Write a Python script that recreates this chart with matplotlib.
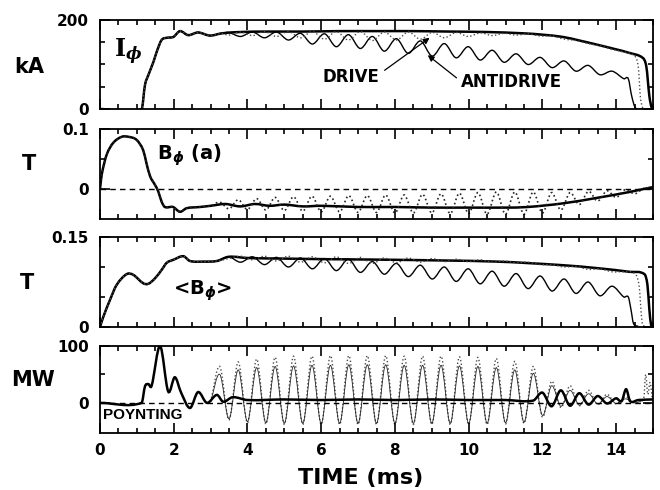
import numpy as np
import matplotlib
matplotlib.use("Agg")
import matplotlib.pyplot as plt
from matplotlib.path import Path
from matplotlib.patches import PathPatch
from matplotlib.ticker import MultipleLocator

plt.rcParams['font.family'] = ['DejaVu Sans']
plt.rcParams['font.weight'] = 'bold'

# --- data (time in ms) ---
# extremum times of the slow oscillation (I_phi, <B_phi>), peak/trough alternately
tA = [3.49, 3.81, 4.14, 4.46, 4.79, 5.11, 5.44, 5.76, 6.09, 6.41, 6.74, 7.06,
      7.39, 7.71, 8.04, 8.36, 8.69, 9.01, 9.34, 9.66, 9.99, 10.31, 10.64, 10.96,
      11.29, 11.61, 11.94, 12.26, 12.59, 12.91, 13.24, 13.56, 13.89, 14.21]
# extremum times of the fast oscillation (B_phi(a), Poynting)
tB = [3.25, 3.5, 3.75, 4.0, 4.25, 4.5, 4.75, 5.0, 5.25, 5.5, 5.75, 6.0, 6.25,
      6.5, 6.75, 7.0, 7.25, 7.5, 7.75, 8.0, 8.25, 8.5, 8.75, 9.0, 9.25, 9.5,
      9.75, 10.0, 10.25, 10.5, 10.75, 11.0, 11.25, 11.5, 11.75, 12.0, 12.25,
      12.5, 12.75, 13.0, 13.25, 13.5, 13.75, 14.0, 14.25, 14.5, 14.75]

# I_phi (kA)
ip_base_t = [0, 1.13, 1.22, 1.31, 1.45, 1.54, 1.67, 1.81, 1.99, 2.17, 2.39, 2.66, 2.98, 3.3]
ip_base_v = [0, 0, 54, 76, 106, 129, 155, 160, 162, 175, 166, 172, 165, 170]
ip_drive_t = [3.8, 4.5, 5.5, 6.5, 7.5, 8.5, 9.5, 10.5, 11.5, 12.0, 12.55, 13.0,
              13.46, 14.0, 14.36, 14.72, 14.82, 14.9, 14.96, 15.0]
ip_drive_v = [173, 174, 174, 175, 175, 175, 174, 173, 170, 167, 162, 154,
              145, 134, 126, 115, 95, 30, 4, 2]
ip_anti_v = [172, 163, 173, 160, 173, 155, 170, 146, 169, 140, 167, 136,
             163, 130, 158, 125, 153, 119, 147, 115, 140, 110, 132, 105,
             124, 100, 116, 93, 108, 85, 98, 77, 85, 68]
ip_anti_end_t = [14.33, 14.42, 14.52, 14.75]
ip_anti_end_v = [68, 30, 3, 0]
ip_dot_v = [166, 173, 165, 174, 163, 174, 160, 174, 157, 174, 155, 174,
            154, 173, 155, 173, 157, 172, 160, 172, 163, 171, 165, 170,
            166, 169, 164, 164, 157, 154, 147, 142, 134, 128]
ip_dot_end_t = [14.5, 14.6, 14.66, 14.72]
ip_dot_end_v = [119, 95, 25, 2]

# B_phi(a) (T)
ba_base_t = [0, 0.05, 0.18, 0.36, 0.59, 0.77, 0.99, 1.17, 1.26, 1.36, 1.49,
             1.58, 1.67, 1.76, 1.98, 2.17, 2.35, 2.71, 3.0]
ba_base_v = [0.0, 0.025, 0.057, 0.077, 0.087, 0.087, 0.082, 0.065, 0.043, 0.021,
             0.007, -0.004, -0.021, -0.03, -0.03, -0.038, -0.032, -0.03, -0.028]
ba_drive_t = [3.4, 3.8, 4.2, 4.6, 5.0, 5.5, 6.0, 7.0, 8.0, 9.0, 10.0, 11.0,
              11.6, 12.55, 13.46, 14.36, 14.9, 15.0]
ba_drive_v = [-0.025, -0.029, -0.025, -0.028, -0.026, -0.029, -0.028, -0.03,
              -0.03, -0.031, -0.031, -0.031, -0.03, -0.024, -0.015, -0.005, 0.002, 0.003]
ba_dot_v = [-0.022, -0.033, -0.018, -0.034, -0.016, -0.035, -0.014, -0.036,
            -0.013, -0.037, -0.012, -0.038, -0.012, -0.038, -0.011, -0.039,
            -0.011, -0.039, -0.010, -0.040, -0.010, -0.040, -0.009, -0.040,
            -0.008, -0.041, -0.007, -0.041, -0.006, -0.042, -0.005, -0.042,
            -0.005, -0.042, -0.005, -0.040, -0.006, -0.035, -0.006, -0.026,
            -0.004, -0.020, -0.003, -0.014, -0.001, -0.008, 0.001]

# <B_phi> (T)
bm_base_t = [0, 0.09, 0.27, 0.45, 0.72, 0.9, 1.17, 1.31, 1.49, 1.67, 1.81,
             1.99, 2.26, 2.44, 2.8, 3.17]
bm_base_v = [0, 0.017, 0.045, 0.07, 0.088, 0.087, 0.073, 0.072, 0.081, 0.095,
             0.107, 0.112, 0.118, 0.11, 0.109, 0.11]
bm_drive_t = [3.49, 4.0, 5.0, 6.2, 8.0, 10.75, 12.55, 13.5, 14.36, 14.77,
              14.85, 14.9, 14.95, 15.0]
bm_drive_v = [0.117, 0.115, 0.114, 0.113, 0.112, 0.109, 0.103, 0.098, 0.092,
              0.088, 0.07, 0.03, 0.003, 0.002]
bm_anti_v = [0.117, 0.108, 0.117, 0.104, 0.116, 0.100, 0.115, 0.097, 0.114,
             0.094, 0.113, 0.091, 0.109, 0.088, 0.106, 0.084, 0.103, 0.080,
             0.100, 0.076, 0.097, 0.072, 0.093, 0.068, 0.089, 0.064, 0.085,
             0.060, 0.080, 0.056, 0.075, 0.052, 0.068, 0.050]
bm_anti_end_t = [14.33, 14.4, 14.47, 14.6]
bm_anti_end_v = [0.05, 0.03, 0.006, 0.001]
bm_dot_v = [0.114, 0.118, 0.112, 0.118, 0.110, 0.118, 0.108, 0.117, 0.107,
            0.117, 0.106, 0.116, 0.106, 0.115, 0.107, 0.115, 0.108, 0.114,
            0.109, 0.113, 0.109, 0.112, 0.108, 0.110, 0.107, 0.108, 0.104,
            0.104, 0.100, 0.101, 0.096, 0.097, 0.092, 0.092]
bm_dot_end_t = [14.5, 14.62, 14.7, 14.78]
bm_dot_end_v = [0.089, 0.07, 0.01, 0.0]

# Poynting (MW)
py_drive_t = [0, 1.13, 1.22, 1.31, 1.4, 1.63, 1.85, 2.03, 2.2, 2.44, 2.66, 2.9,
              3.17, 3.34, 3.6, 4.0, 5.0, 6.0, 7.0, 8.0, 9.0, 10.0, 11.0, 11.75,
              12.0, 12.25, 12.5, 12.75, 13.0, 13.25, 13.5, 13.75, 14.0, 14.15,
              14.27, 14.38, 14.6, 15.0]
py_drive_v = [0, 0, 29, 33, 30, 100, 20, 45, 18, -9, 19, 0, 14, 2, 10, 5, 6, 5,
              6, 5, 6, 5, 5, 4, 18, -6, 22, -5, 17, -3, 12, -1, 8, 3, 24, 3, 5, 6]
py_dot_v = [64, -30, 72, -35, 77, -37, 80, -38, 82, -38, 82, -38, 83, -38,
            83, -38, 83, -38, 83, -38, 82, -38, 82, -38, 82, -38, 81, -38,
            80, -38, 78, -37, 73, -36, 64, -25, 38, -8, 30, -5, 22, -3, 15,
            -2, 10, 0, 8]
py_dot_end_t = [14.8, 14.86, 14.92, 14.98]
py_dot_end_v = [50, 15, 36, 8]
py_thin_v = [50, -28, 58, -33, 62, -35, 64, -36, 65, -36, 66, -36, 66, -36,
             67, -36, 67, -36, 67, -36, 66, -36, 66, -36, 66, -36, 65, -36,
             64, -36, 62, -35, 58, -34, 52, -22, 30, -6, 22, -4, 16, -2, 11,
             -1, 7, 0, 5]


def curve(ax, t, v, **kw):
    # smooth line through the read points (cubic Hermite drawn as Bezier path)
    t = np.asarray(t, float)
    v = np.asarray(v, float)
    m = np.empty(len(t))
    m[0] = (v[1] - v[0]) / (t[1] - t[0])
    m[-1] = (v[-1] - v[-2]) / (t[-1] - t[-2])
    m[1:-1] = (v[2:] - v[:-2]) / (t[2:] - t[:-2])
    verts = [(t[0], v[0])]
    codes = [Path.MOVETO]
    for i in range(len(t) - 1):
        h = t[i + 1] - t[i]
        verts += [(t[i] + h / 3, v[i] + m[i] * h / 3),
                  (t[i + 1] - h / 3, v[i + 1] - m[i + 1] * h / 3),
                  (t[i + 1], v[i + 1])]
        codes += [Path.CURVE4] * 3
    ax.add_patch(PathPatch(Path(verts, codes), fill=False, **kw))


def frame(ax, ylim, yticks, ylabels, yminor, bottom_labels=False):
    ax.set_xlim(0, 15)
    ax.set_ylim(*ylim)
    ax.set_xticks(range(0, 15, 2))
    ax.xaxis.set_minor_locator(MultipleLocator(0.5))
    ax.set_yticks(yticks)
    ax.set_yticklabels(ylabels)
    ax.set_yticks(yminor, minor=True)
    ax.tick_params(which='both', direction='in', top=True, right=True, width=1.2)
    ax.tick_params(which='major', length=7, labelsize=11, pad=8)
    ax.tick_params(which='minor', length=3.5)
    ax.tick_params(axis='x', labelbottom=bottom_labels, pad=7)
    for s in ax.spines.values():
        s.set_linewidth(1.3)


fig = plt.figure(figsize=(6.6, 4.9), dpi=100)
W = 553 / 660
ax1 = fig.add_axes([100 / 660, 1 - 109 / 490, W, 89 / 490])
ax2 = fig.add_axes([100 / 660, 1 - 219 / 490, W, 90 / 490])
ax3 = fig.add_axes([100 / 660, 1 - 327 / 490, W, 90 / 490])
ax4 = fig.add_axes([100 / 660, 1 - 433 / 490, W, 87 / 490])

thick = dict(color='k', lw=1.8)
thin = dict(color='k', lw=1.0)
dots = dict(color='0.3', lw=1.0, ls=':')

# panel 1: I_phi
frame(ax1, (0, 200), [0, 200], ['0', '200'], [50, 100, 150])
curve(ax1, ip_base_t + ip_drive_t, ip_base_v + ip_drive_v, **thick)
curve(ax1, ip_base_t + tA + ip_anti_end_t, ip_base_v + ip_anti_v + ip_anti_end_v, **thin)
curve(ax1, ip_base_t + tA + ip_dot_end_t, ip_base_v + ip_dot_v + ip_dot_end_v, **dots)
ax1.text(0.76, 128, r'$\mathbf{I}_{\phi}$', fontsize=17, ha='center', va='center',
         math_fontfamily='dejavuserif')
ax1.text(6.8, 72, 'DRIVE', fontsize=12, ha='center', va='center')
ax1.text(11.17, 60, 'ANTIDRIVE', fontsize=12, ha='center', va='center')
arrow = dict(arrowstyle='-|>', color='k', lw=0.9, mutation_scale=9, shrinkA=0, shrinkB=0)
ax1.annotate('', xy=(8.94, 160), xytext=(7.72, 87), arrowprops=arrow)
ax1.annotate('', xy=(8.89, 121), xytext=(9.67, 70), arrowprops=arrow)

# panel 2: B_phi(a)
frame(ax2, (-0.05, 0.1), [0, 0.1], ['0', '0.1'], [0.05])
ax2.axhline(0, color='k', lw=1.0, ls=(0, (4, 3)))
curve(ax2, ba_base_t + ba_drive_t, ba_base_v + ba_drive_v, **thick)
curve(ax2, ba_base_t + tB + [15.0], ba_base_v + ba_dot_v + [0.002],
      color='0.15', lw=1.2, ls=':')
ax2.text(1.54, 0.057, r'B$_\phi$ (a)', fontsize=14, ha='left', va='center')

# panel 3: <B_phi>
frame(ax3, (0, 0.15), [0, 0.15], ['0', '0.15'], [0.05, 0.1])
curve(ax3, bm_base_t + bm_drive_t, bm_base_v + bm_drive_v, **thick)
curve(ax3, bm_base_t + tA + bm_anti_end_t, bm_base_v + bm_anti_v + bm_anti_end_v, **thin)
curve(ax3, bm_base_t + tA + bm_dot_end_t, bm_base_v + bm_dot_v + bm_dot_end_v, **dots)
ax3.text(1.98, 0.062, r'<B$_\phi$>', fontsize=14, ha='left', va='center')

# panel 4: Poynting flux
frame(ax4, (-53, 100), [0, 100], ['0', '100'], [50], bottom_labels=True)
ax4.axhline(0, color='k', lw=1.0, ls=(0, (4, 3)))
curve(ax4, [3.0] + tB + py_dot_end_t, [2] + py_dot_v + py_dot_end_v, **dots)
curve(ax4, [3.0] + tB, [2] + py_thin_v, color='0.15', lw=0.6)
curve(ax4, py_drive_t, py_drive_v, **thick)
ax4.text(0.08, -21, 'POYNTING', fontsize=11, ha='left', va='center',
         family='Liberation Sans')

# units and axis title
fig.text(29 / 660, 1 - 67 / 490, 'kA', fontsize=15, ha='center', va='center')
fig.text(29 / 660, 1 - 164 / 490, 'T', fontsize=15, ha='center', va='center')
fig.text(27 / 660, 1 - 283 / 490, 'T', fontsize=15, ha='center', va='center')
fig.text(33 / 660, 1 - 380 / 490, 'MW', fontsize=15, ha='center', va='center')
fig.text(361 / 660, 1 - 478 / 490, 'TIME (ms)', fontsize=16, ha='center', va='center')

fig.savefig('out.png', dpi=100)
